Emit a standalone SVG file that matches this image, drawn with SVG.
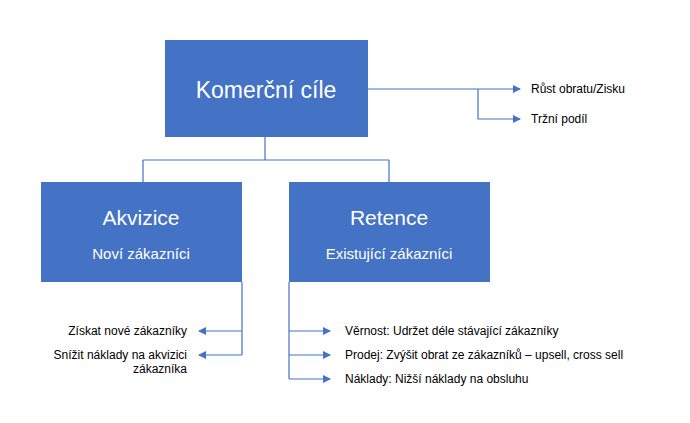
<svg xmlns="http://www.w3.org/2000/svg" width="690" height="423" viewBox="0 0 690 423">
<style>
.box{fill:#4472C4}
.t{font-family:"Liberation Sans",Arial,sans-serif;fill:#fff}
.s{font-family:"Liberation Sans",Arial,sans-serif;font-size:12px;fill:#000}
.c{fill:none;stroke:#4472C4;stroke-width:1.2}
</style>
<defs><marker id="a" markerWidth="8" markerHeight="8" refX="7" refY="4" orient="auto" markerUnits="userSpaceOnUse"><path d="M0,0 L8,4 L0,8 Z" fill="#4472C4"/></marker></defs>
<rect width="690" height="423" fill="#fff"/>
<g id="connectors">
<path class="c" d="M265,137 V160 M143,160 H389 M143,160 V182 M389,160 V182" stroke-width="2"/>
<path class="c" d="M368,89 H520" marker-end="url(#a)"/>
<path class="c" d="M478,89 V119 H520" marker-end="url(#a)" stroke="#8FAADC"/>
<path class="c" d="M242,282 V355"/>
<path class="c" d="M242,331 H199" marker-end="url(#a)"/>
<path class="c" d="M242,355 H199" marker-end="url(#a)"/>
<path class="c" d="M289,282 V379"/>
<path class="c" d="M289,331 H330" marker-end="url(#a)"/>
<path class="c" d="M289,355 H330" marker-end="url(#a)"/>
<path class="c" d="M289,379 H330" marker-end="url(#a)"/>
</g>
<g id="komercni"><rect class="box" x="165" y="40" width="203" height="97"/><text class="t" x="266" y="98" font-size="23" text-anchor="middle">Komerční cíle</text></g>
<g id="akvizice"><rect class="box" x="41" y="182" width="201" height="100"/><text class="t" x="141" y="225" font-size="21" text-anchor="middle">Akvizice</text><text class="t" x="141" y="259" font-size="15" text-anchor="middle">Noví zákazníci</text></g>
<g id="retence"><rect class="box" x="289" y="182" width="201" height="100"/><text class="t" x="389" y="225" font-size="21" text-anchor="middle">Retence</text><text class="t" x="389" y="259" font-size="15" text-anchor="middle">Existující zákazníci</text></g>
<g id="labels">
<text class="s" x="531" y="93">Růst obratu/Zisku</text>
<text class="s" x="531" y="123">Tržní  podíl</text>
<text class="s" x="187" y="335" text-anchor="end">Získat nové zákazníky</text>
<text class="s" x="187" y="359" text-anchor="end">Snížit náklady na akvizici</text>
<text class="s" x="187" y="373" text-anchor="end">zákazníka</text>
<text class="s" x="345" y="335">Věrnost: Udržet déle stávající zákazníky</text>
<text class="s" x="345" y="359">Prodej: Zvýšit obrat ze zákazníků  – upsell, cross sell</text>
<text class="s" x="345" y="383">Náklady: Nižší náklady na obsluhu</text>
</g>
</svg>
